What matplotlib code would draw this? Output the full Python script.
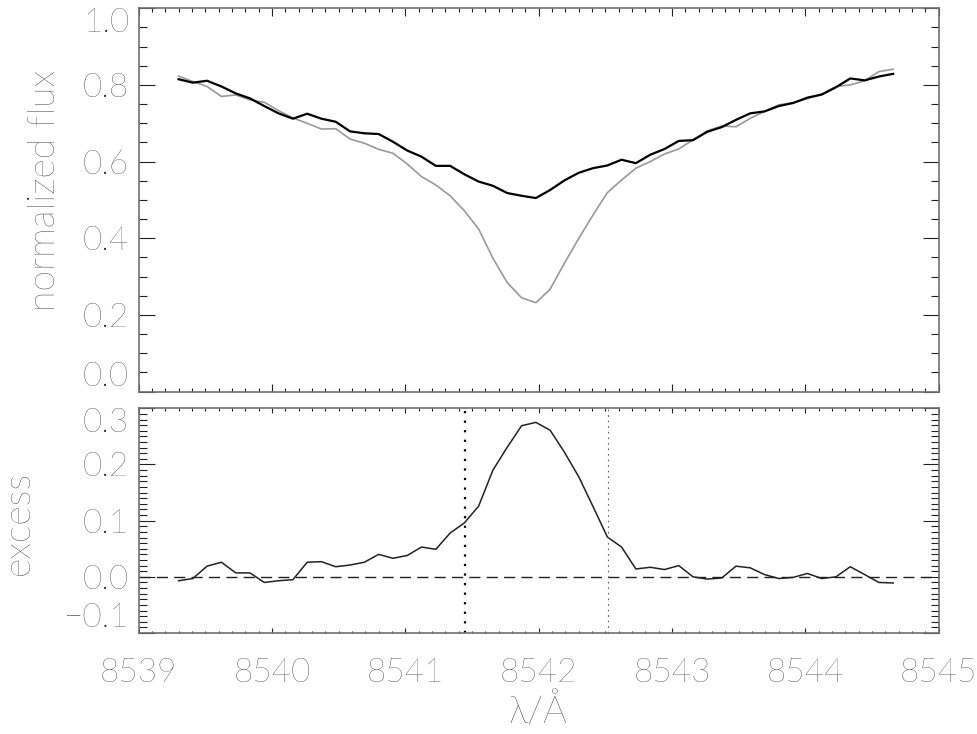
import numpy as np
import matplotlib
matplotlib.use("Agg")
import matplotlib.pyplot as plt
from matplotlib.ticker import MultipleLocator

plt.rcParams['font.family'] = ['Lato', 'DejaVu Sans']
plt.rcParams['font.weight'] = 'light'

# wavelength grid of the Ca II 8542 profile
wave = [8539.300, 8539.407, 8539.514, 8539.622, 8539.729, 8539.836, 8539.943,
        8540.050, 8540.158, 8540.265, 8540.372, 8540.479, 8540.586, 8540.694,
        8540.801, 8540.908, 8541.015, 8541.122, 8541.230, 8541.337, 8541.444,
        8541.551, 8541.658, 8541.766, 8541.873, 8541.980, 8542.087, 8542.194,
        8542.302, 8542.409, 8542.516, 8542.623, 8542.730, 8542.838, 8542.945,
        8543.052, 8543.159, 8543.266, 8543.374, 8543.481, 8543.588, 8543.695,
        8543.802, 8543.910, 8544.017, 8544.124, 8544.231, 8544.338, 8544.446,
        8544.553, 8544.660]

flux_obs = [0.815, 0.806, 0.811, 0.796, 0.778, 0.765, 0.745, 0.726, 0.712, 0.725,
            0.712, 0.704, 0.679, 0.674, 0.672, 0.652, 0.629, 0.613, 0.589, 0.589,
            0.567, 0.548, 0.537, 0.518, 0.511, 0.505, 0.526, 0.551, 0.571, 0.583,
            0.590, 0.605, 0.596, 0.618, 0.633, 0.654, 0.656, 0.678, 0.690, 0.709,
            0.726, 0.731, 0.745, 0.753, 0.767, 0.775, 0.794, 0.817, 0.812, 0.822,
            0.829]

flux_ref = [0.823, 0.809, 0.796, 0.770, 0.774, 0.761, 0.755, 0.733, 0.714, 0.700,
            0.685, 0.686, 0.659, 0.648, 0.632, 0.622, 0.594, 0.561, 0.539, 0.511,
            0.472, 0.424, 0.348, 0.284, 0.245, 0.232, 0.267, 0.335, 0.400, 0.461,
            0.519, 0.552, 0.583, 0.600, 0.620, 0.633, 0.657, 0.680, 0.693, 0.691,
            0.713, 0.731, 0.748, 0.754, 0.764, 0.776, 0.796, 0.800, 0.811, 0.835,
            0.841]

excess = [-0.007, -0.003, 0.019, 0.026, 0.007, 0.007, -0.010, -0.007, -0.005, 0.026,
          0.027, 0.018, 0.021, 0.026, 0.040, 0.033, 0.038, 0.053, 0.049, 0.078,
          0.096, 0.126, 0.190, 0.231, 0.269, 0.275, 0.261, 0.222, 0.178, 0.125,
          0.071, 0.053, 0.014, 0.017, 0.013, 0.020, 0.000, -0.004, -0.002, 0.019,
          0.016, 0.004, -0.003, -0.001, 0.006, -0.003, 0.000, 0.018, 0.004, -0.010,
          -0.011]

flux_ticks = [0.0, 0.2, 0.4, 0.6, 0.8, 1.0]
flux_labels = ['0.0', '0.2', '0.4', '0.6', '0.8', '1.0']
exc_ticks = [-0.1, 0.0, 0.1, 0.2, 0.3]
exc_labels = ['\u22120.1', '0.0', '0.1', '0.2', '0.3']
wl_ticks = [8539, 8540, 8541, 8542, 8543, 8544, 8545]

# integration window
win_blue = 8541.45
win_red = 8542.52

txt_col = '#1e1e1e'
fs = 24
fs_lab = 27

fig = plt.figure(figsize=(9.77, 7.34), dpi=100)
ax1 = fig.add_axes([0.1418, 0.4664, 0.8188, 0.5223])
ax2 = fig.add_axes([0.1418, 0.1376, 0.8188, 0.3061])

ax1.plot(wave, flux_ref, color='#999999', lw=1.2)
ax1.plot(wave, flux_obs, color='black', lw=1.6)

ax2.plot(wave, excess, color='#222222', lw=1.1)
ax2.axhline(0.0, color='#222222', lw=1.0, dashes=(8, 4.5))
ax2.axvline(win_blue, color='black', lw=1.6, linestyle=(0, (1.0, 3.3)))
ax2.axvline(win_red, color='#666666', lw=0.8, linestyle=(0, (1.5, 3.5)))

for ax in (ax1, ax2):
    ax.set_xlim(8539, 8545)
    ax.xaxis.set_minor_locator(MultipleLocator(0.1))
    for s in ax.spines.values():
        s.set_color('#707070')
        s.set_linewidth(1.2)
    ax.tick_params(which='both', direction='in', top=True, right=True,
                   color='#222222', width=0.8, labelsize=fs, labelcolor=txt_col)
    ax.tick_params(axis='y', which='major', length=11.5, pad=7)
    ax.tick_params(axis='y', which='minor', length=5.8)

ax1.set_ylim(0, 1.0)
ax1.set_xticks(wl_ticks)
ax1.set_yticks(flux_ticks)
ax1.set_yticklabels(flux_labels)
ax1.yaxis.set_minor_locator(MultipleLocator(0.05))
ax1.tick_params(axis='x', which='major', length=5.8)
ax1.tick_params(axis='x', which='minor', length=2.9)
ax1.tick_params(axis='x', labelbottom=False)

ax2.set_ylim(-0.1, 0.3)
ax2.set_yticks(exc_ticks)
ax2.set_yticklabels(exc_labels)
ax2.yaxis.set_minor_locator(MultipleLocator(0.01))
ax2.set_xticks(wl_ticks)
ax2.set_xticklabels([str(v) for v in wl_ticks])
ax2.tick_params(axis='x', which='major', length=3.6, pad=18)
ax2.tick_params(axis='x', which='minor', length=1.8)

# keep the end labels inside the frame height
for ax in (ax1, ax2):
    labs = ax.get_yticklabels()
    labs[0].set_verticalalignment('bottom')
    labs[-1].set_verticalalignment('top')

fig.text(45 / 977, 1 - 190 / 734, 'normalized flux', rotation=90, ha='center',
         va='center', fontsize=fs_lab, color=txt_col)
fig.text(19 / 977, 1 - 523 / 734, 'excess', rotation=90, ha='center',
         va='center', fontsize=fs_lab, color=txt_col)
fig.text(538 / 977, 1 - 712 / 734, '\u03bb/\u00c5', ha='center', va='center',
         fontsize=fs_lab, color=txt_col)

fig.savefig('out.png', dpi=100)
